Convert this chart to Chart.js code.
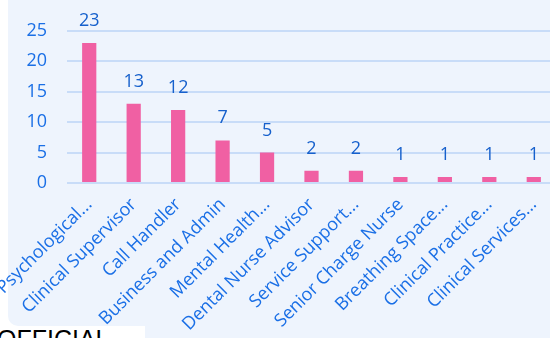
<!DOCTYPE html>
<html>
<head>
<meta charset="utf-8">
<script src="https://cdn.jsdelivr.net/npm/chart.js@4.4.1/dist/chart.umd.min.js"></script>
<style>
  html, body { margin: 0; padding: 0; background: #fff; overflow: hidden; }
  body { width: 550px; height: 338px; position: relative; }
  #panel { position: absolute; left: 8px; top: 0; width: 542px; height: 326px; background: #eef4fd; border-bottom-left-radius: 10px; }
  #panelLow { position: absolute; left: 145px; top: 300px; right: 0; bottom: 0; background: #eef4fd; }
  #official { position: absolute; left: -3px; top: 327px; font: 25px/25px "Liberation Sans", Arial, sans-serif; color: #000; white-space: nowrap; }
  #wrap { position: absolute; left: 0; top: 0; width: 556px; height: 338px; }
</style>
</head>
<body>
<div id="panel"></div>
<div id="panelLow"></div>
<div id="official">OFFICIAL</div>
<div id="wrap"><canvas id="chart"></canvas></div>
<script>
// Data
const roles = [
  'Psychological...', 'Clinical Supervisor', 'Call Handler', 'Business and Admin',
  'Mental Health...', 'Dental Nurse Advisor', 'Service Support...', 'Senior Charge Nurse',
  'Breathing Space...', 'Clinical Practice...', 'Clinical Services...'
];
const counts = [23, 13, 12, 7, 5, 2, 2, 1, 1, 1, 1];
const yTicks = [0, 5, 10, 15, 20, 25];

const FONT = '"Open Sans", "Noto Sans", sans-serif';
const BLUE = '#1a6fe6';

// Value labels above bars
const valueLabels = {
  id: 'valueLabels',
  afterDatasetsDraw(chart) {
    const { ctx } = chart;
    const meta = chart.getDatasetMeta(0);
    ctx.save();
    ctx.font = `18px ${FONT}`;
    ctx.fillStyle = '#1660cc';
    ctx.textAlign = 'center';
    ctx.textBaseline = 'alphabetic';
    meta.data.forEach((bar, i) => {
      ctx.fillText(String(counts[i]), bar.x, bar.y - 17);
    });
    ctx.restore();
  }
};

new Chart(document.getElementById('chart'), {
  type: 'bar',
  data: {
    labels: roles,
    datasets: [{
      data: counts,
      backgroundColor: '#f060a3',
      borderWidth: 0,
      barPercentage: 0.32,
      categoryPercentage: 1
    }]
  },
  options: {
    responsive: true,
    maintainAspectRatio: false,
    animation: false,
    layout: { padding: { top: 28, right: 0, bottom: 0, left: 0 } },
    plugins: { legend: { display: false }, tooltip: { enabled: false } },
    scales: {
      x: {
        grid: { display: false },
        border: { display: false },
        ticks: {
          color: BLUE,
          font: { family: FONT, size: 18 },
          minRotation: 45,
          maxRotation: 45,
          autoSkip: false,
          padding: 3
        },
        afterFit(s) {
          s.height = 155;
          s.paddingLeft = 0;
          s.paddingRight = 0;
        }
      },
      y: {
        min: 0,
        max: 25,
        afterBuildTicks(s) { s.ticks = yTicks.map(v => ({ value: v })); },
        grid: { color: '#c8dcf8', lineWidth: 2, drawTicks: false },
        border: { display: false },
        ticks: {
          color: BLUE,
          font: { family: FONT, size: 18 },
          padding: 20
        },
        afterFit(s) { s.width = 67; }
      }
    }
  },
  plugins: [valueLabels]
});
</script>
</body>
</html>
